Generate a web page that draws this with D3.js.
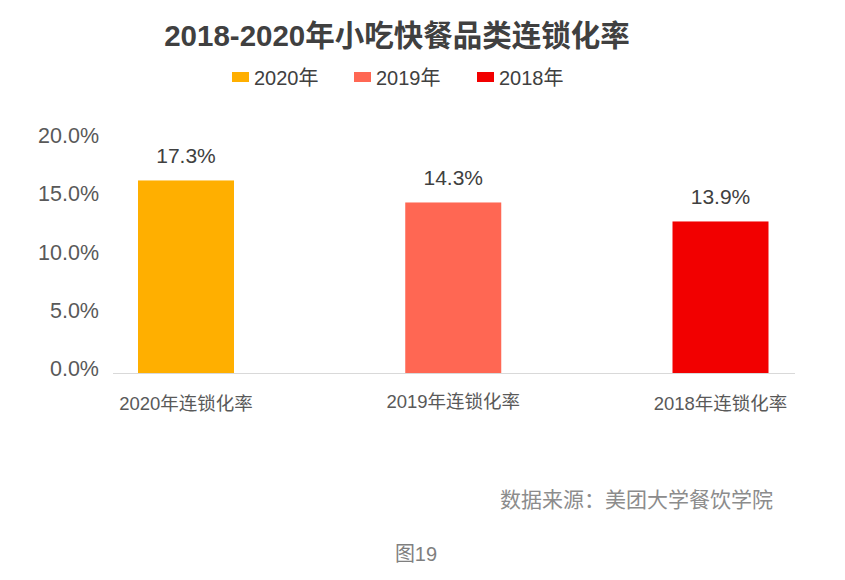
<!DOCTYPE html>
<html><head><meta charset="utf-8">
<script src="https://cdn.jsdelivr.net/npm/d3@7"></script>
<style>
html,body{margin:0;padding:0;background:#fff;}
svg{display:block;font-family:"Liberation Sans","Noto Sans CJK SC",sans-serif;}
</style></head>
<body>
<svg id="c" width="845" height="580"></svg>
<script>
const categories = ["2020年连锁化率", "2019年连锁化率", "2018年连锁化率"];
const seriesNames = ["2020年", "2019年", "2018年"];
const barValues = [16.57, 14.68, 13.05];           // bar heights as drawn in the picture
const valueLabels = ["17.3%", "14.3%", "13.9%"];  // printed labels
const yTicks = [0, 5, 10, 15, 20];
const colors = ["#FFAF00", "#FF6753", "#F20000"];

const svg = d3.select("#c");
const y = d3.scaleLinear().domain([0, 20]).range([373.5, 140.5]);
const x = d3.scalePoint().domain(categories).range([186, 720.5]);
const barW = 96;

// title
svg.append("text").attr("x", 397).attr("y", 46).attr("text-anchor", "middle")
  .attr("font-size", 29.5).attr("font-weight", "bold").attr("fill", "#404040")
  .text("2018-2020年小吃快餐品类连锁化率");

// legend
const legX = [232, 354, 477];
const leg = svg.append("g");
seriesNames.forEach((s, i) => {
  leg.append("rect").attr("x", legX[i]).attr("y", 72).attr("width", 17).attr("height", 10).attr("fill", colors[i]);
  leg.append("text").attr("x", legX[i] + 22).attr("y", 84.5).attr("font-size", 20).attr("fill", "#404040").text(s);
});

// y axis
const yAxis = d3.axisLeft(y).tickValues(yTicks).tickSize(0).tickPadding(0)
  .tickFormat(d => d3.format(".1f")(d) + "%");
const ga = svg.append("g").attr("transform", "translate(99,0)").call(yAxis);
ga.select(".domain").remove();
ga.selectAll("text").attr("font-size", 21.5).attr("fill", "#595959")
  .attr("font-family", '"Liberation Sans","Noto Sans CJK SC",sans-serif')
  .attr("dy", "0.1em");

// bars
svg.selectAll("rect.bar").data(categories).enter().append("rect").attr("class", "bar")
  .attr("x", d => x(d) - barW / 2).attr("width", barW)
  .attr("y", (d, i) => y(barValues[i]))
  .attr("height", (d, i) => y(0) - y(barValues[i]))
  .attr("fill", (d, i) => colors[i]);

// baseline
svg.append("line").attr("x1", 113).attr("x2", 795).attr("y1", y(0)).attr("y2", y(0))
  .attr("stroke", "#d9d9d9").attr("stroke-width", 1);

// value labels
svg.selectAll("text.val").data(categories).enter().append("text").attr("class", "val")
  .attr("x", d => x(d)).attr("y", (d, i) => y(barValues[i]) - 17)
  .attr("text-anchor", "middle").attr("font-size", 21).attr("fill", "#404040")
  .text((d, i) => valueLabels[i]);

// category labels
const catDy = [0, -2, 0];
svg.selectAll("text.cat").data(categories).enter().append("text").attr("class", "cat")
  .attr("x", d => x(d)).attr("y", (d, i) => 409.5 + catDy[i])
  .attr("text-anchor", "middle").attr("font-size", 18.5).attr("fill", "#595959")
  .text(d => d);

// source
svg.append("text").attr("x", 773).attr("y", 506.5).attr("text-anchor", "end")
  .attr("font-size", 21).attr("fill", "#8c8c8c").text("数据来源：美团大学餐饮学院");

// figure number
svg.append("text").attr("x", 416).attr("y", 561).attr("text-anchor", "middle")
  .attr("font-size", 20).attr("fill", "#7f7f7f").text("图19");
</script>
</body></html>
